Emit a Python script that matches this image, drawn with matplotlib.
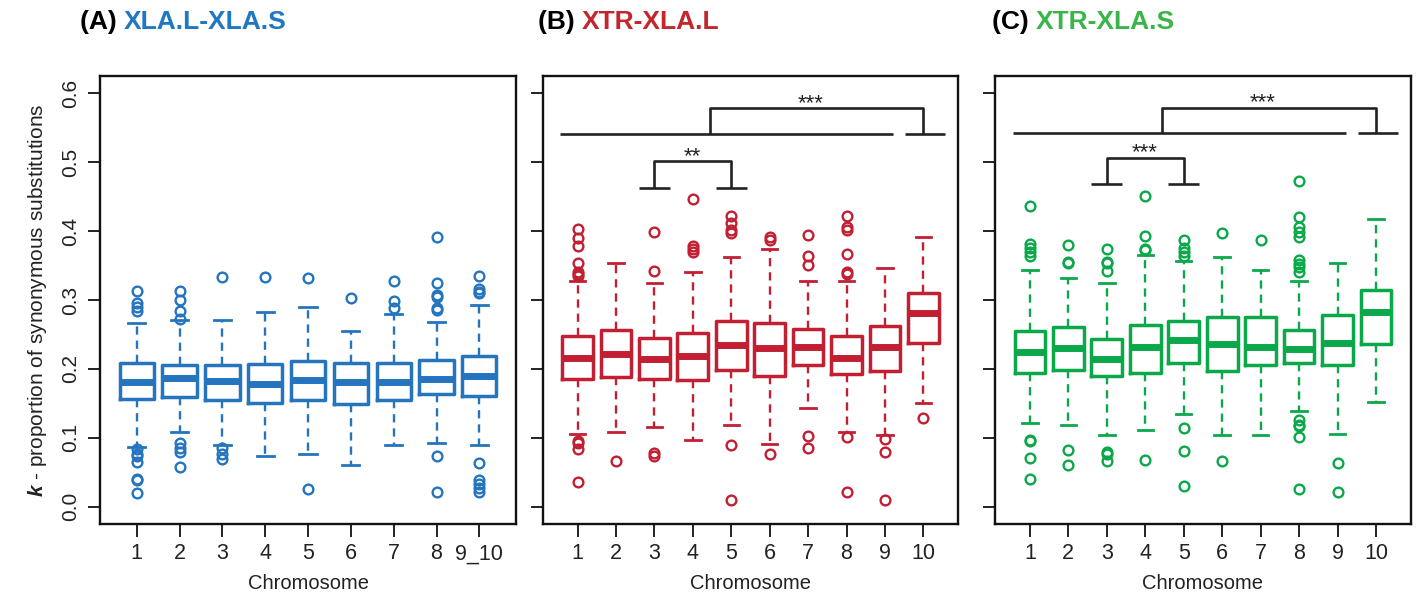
import matplotlib
matplotlib.use("Agg")
import matplotlib.pyplot as plt

plt.rcParams['font.family'] = ['Liberation Sans', 'DejaVu Sans']
plt.rcParams['mathtext.fontset'] = 'custom'
plt.rcParams['mathtext.bfit'] = 'Liberation Sans:bold:italic'

# ---- data (k values per chromosome) ----
labels_a = ["1", "2", "3", "4", "5", "6", "7", "8", "9_10"]
labels_bc = ["1", "2", "3", "4", "5", "6", "7", "8", "9", "10"]

# panel A: XLA.L-XLA.S
a_whislo = [0.086, 0.108, 0.089, 0.074, 0.077, 0.060, 0.089, 0.093, 0.090]
a_q1 = [0.157, 0.159, 0.155, 0.151, 0.155, 0.149, 0.155, 0.164, 0.161]
a_med = [0.181, 0.187, 0.183, 0.178, 0.184, 0.181, 0.181, 0.185, 0.189]
a_q3 = [0.208, 0.205, 0.205, 0.207, 0.211, 0.209, 0.208, 0.213, 0.219]
a_whishi = [0.267, 0.271, 0.271, 0.282, 0.290, 0.255, 0.280, 0.268, 0.293]
a_fliers = [
    [0.313, 0.296, 0.290, 0.284, 0.083, 0.077, 0.073, 0.065, 0.040, 0.038, 0.020],
    [0.313, 0.300, 0.284, 0.273, 0.092, 0.085, 0.079, 0.058],
    [0.334, 0.085, 0.076, 0.069],
    [0.334],
    [0.332, 0.026],
    [0.303],
    [0.327, 0.298, 0.288],
    [0.391, 0.325, 0.307, 0.305, 0.288, 0.286, 0.074, 0.022],
    [0.335, 0.316, 0.312, 0.310, 0.063, 0.039, 0.033, 0.027, 0.021],
]

# panel B: XTR-XLA.L
b_whislo = [0.106, 0.108, 0.116, 0.097, 0.118, 0.091, 0.143, 0.108, 0.104, 0.150]
b_q1 = [0.186, 0.188, 0.186, 0.184, 0.199, 0.190, 0.205, 0.192, 0.197, 0.238]
b_med = [0.216, 0.222, 0.214, 0.219, 0.235, 0.231, 0.232, 0.216, 0.232, 0.281]
b_q3 = [0.247, 0.256, 0.245, 0.252, 0.269, 0.267, 0.258, 0.248, 0.262, 0.310]
b_whishi = [0.327, 0.353, 0.324, 0.340, 0.362, 0.374, 0.328, 0.327, 0.347, 0.391]
b_fliers = [
    [0.403, 0.390, 0.378, 0.353, 0.340, 0.337, 0.335, 0.096, 0.093, 0.083, 0.036],
    [0.066],
    [0.399, 0.342, 0.078, 0.073],
    [0.447, 0.379, 0.374, 0.369],
    [0.422, 0.412, 0.401, 0.397, 0.089, 0.009],
    [0.392, 0.387, 0.077],
    [0.395, 0.364, 0.351, 0.102, 0.085],
    [0.422, 0.406, 0.402, 0.366, 0.340, 0.337, 0.101, 0.022],
    [0.098, 0.079, 0.009],
    [0.129],
]

# panel C: XTR-XLA.S
c_whislo = [0.122, 0.118, 0.104, 0.112, 0.135, 0.104, 0.104, 0.139, 0.106, 0.152]
c_q1 = [0.194, 0.199, 0.189, 0.194, 0.208, 0.197, 0.206, 0.208, 0.206, 0.236]
c_med = [0.225, 0.231, 0.215, 0.232, 0.242, 0.236, 0.232, 0.229, 0.238, 0.282]
c_q3 = [0.255, 0.261, 0.244, 0.263, 0.269, 0.275, 0.276, 0.257, 0.278, 0.314]
c_whishi = [0.343, 0.332, 0.324, 0.365, 0.357, 0.362, 0.343, 0.327, 0.353, 0.418]
c_fliers = [
    [0.437, 0.381, 0.375, 0.370, 0.364, 0.097, 0.095, 0.070, 0.040],
    [0.380, 0.355, 0.353, 0.082, 0.060],
    [0.374, 0.355, 0.353, 0.342, 0.080, 0.077, 0.067],
    [0.451, 0.393, 0.374, 0.373, 0.068],
    [0.387, 0.376, 0.370, 0.364, 0.114, 0.081, 0.030],
    [0.397, 0.066],
    [0.387],
    [0.472, 0.420, 0.406, 0.399, 0.391, 0.358, 0.352, 0.348, 0.340,
     0.126, 0.119, 0.117, 0.101, 0.026],
    [0.064, 0.022],
    [],
]

# significance annotations (panels B and C)
b_sig = {"low": 0.463, "low_top": 0.501, "high": 0.541, "high_top": 0.578,
         "stars_low": "**", "stars_high": "***"}
c_sig = {"low": 0.468, "low_top": 0.506, "high": 0.542, "high_top": 0.579,
         "stars_low": "***", "stars_high": "***"}

blue = "#2474BE"
red = "#C21F33"
green = "#0BA84A"


def make_stats(whislo, q1, med, q3, whishi, fliers):
    stats = []
    for i in range(len(med)):
        stats.append({"whislo": whislo[i], "q1": q1[i], "med": med[i], "q3": q3[i],
                      "whishi": whishi[i], "fliers": fliers[i]})
    return stats


def draw_panel(ax, stats, labels, color):
    n = len(stats)
    pos = list(range(1, n + 1))
    ax.bxp(stats, positions=pos, widths=0.8, capwidths=0.4, showfliers=True,
           boxprops=dict(color=color, linewidth=2.5),
           medianprops=dict(color=color, linewidth=5, solid_capstyle='butt'),
           whiskerprops=dict(color=color, linewidth=1.7, linestyle=(0, (3.5, 2.5))),
           capprops=dict(color=color, linewidth=2),
           flierprops=dict(marker='o', markerfacecolor='none', markeredgecolor=color,
                           markersize=7, markeredgewidth=1.7, linestyle='none'))
    span = n
    ax.set_xlim(0.5 - 0.04 * span, n + 0.5 + 0.04 * span)
    ax.set_ylim(-0.025, 0.625)
    ax.set_xticks(pos)
    ax.set_xticklabels(labels, fontsize=15.5)
    ax.set_yticks([0.0, 0.1, 0.2, 0.3, 0.4, 0.5, 0.6])
    ax.tick_params(direction='out', length=9, width=1.4, colors='#222222', pad=5)
    for s in ax.spines.values():
        s.set_linewidth(1.7)
        s.set_color('#111111')
    ax.set_xlabel("Chromosome", fontsize=14.5, labelpad=7, color='#222222')


def draw_sig(ax, sig):
    k = dict(color='#222222', linewidth=1.9, clip_on=False, solid_capstyle='butt')
    # chromosomes 3 vs 5
    ax.plot([2.6, 3.4], [sig["low"], sig["low"]], **k)
    ax.plot([4.6, 5.4], [sig["low"], sig["low"]], **k)
    ax.plot([3, 3, 5, 5], [sig["low"], sig["low_top"], sig["low_top"], sig["low"]], **k)
    ax.text(3.98, sig["low_top"] - 0.008, sig["stars_low"], ha='center', va='bottom',
            fontsize=16, color='#222222')
    # chromosomes 1-9 vs 10
    ax.plot([0.55, 9.22], [sig["high"], sig["high"]], **k)
    ax.plot([9.52, 10.57], [sig["high"], sig["high"]], **k)
    ax.plot([4.44, 4.44, 10, 10], [sig["high"], sig["high_top"], sig["high_top"], sig["high"]], **k)
    ax.text(7.06, sig["high_top"] - 0.008, sig["stars_high"], ha='center', va='bottom',
            fontsize=16, color='#222222')


fig = plt.figure(figsize=(14.18, 5.94), dpi=100)
ax_a = fig.add_axes([0.0705, 0.118, 0.2935, 0.754])
ax_b = fig.add_axes([0.3829, 0.118, 0.2927, 0.754])
ax_c = fig.add_axes([0.7019, 0.118, 0.2929, 0.754])

draw_panel(ax_a, make_stats(a_whislo, a_q1, a_med, a_q3, a_whishi, a_fliers), labels_a, blue)
draw_panel(ax_b, make_stats(b_whislo, b_q1, b_med, b_q3, b_whishi, b_fliers), labels_bc, red)
draw_panel(ax_c, make_stats(c_whislo, c_q1, c_med, c_q3, c_whishi, c_fliers), labels_bc, green)

ax_a.set_yticklabels(["0.0", "0.1", "0.2", "0.3", "0.4", "0.5", "0.6"], rotation=90,
                     va='center', fontsize=15)
ax_b.set_yticklabels([])
ax_c.set_yticklabels([])
ax_a.set_ylabel(r"$\mathbfit{k}$ - proportion of synonymous substitutions",
                fontsize=15, labelpad=9, color='#222222')

draw_sig(ax_b, b_sig)
draw_sig(ax_c, c_sig)

# panel titles
title_font = dict(family=['Liberation Sans Narrow', 'Liberation Sans'], weight='bold',
                  fontsize=19, va='center', ha='left')
titles = [("(A) ", "XLA.L-XLA.S", "#1F78C1", 80), ("(B) ", "XTR-XLA.L", "#C4262E", 538),
          ("(C) ", "XTR-XLA.S", "#3AB54A", 992)]
for tag, name, col, xp in titles:
    t = fig.text(xp / 1418, 1 - 22 / 594, tag, color='black', **title_font)
    fig.canvas.draw()
    bb = t.get_window_extent()
    fig.text(bb.x1 / 1418, 1 - 22 / 594, name, color=col, **title_font)

fig.savefig("out.png", dpi=100)
